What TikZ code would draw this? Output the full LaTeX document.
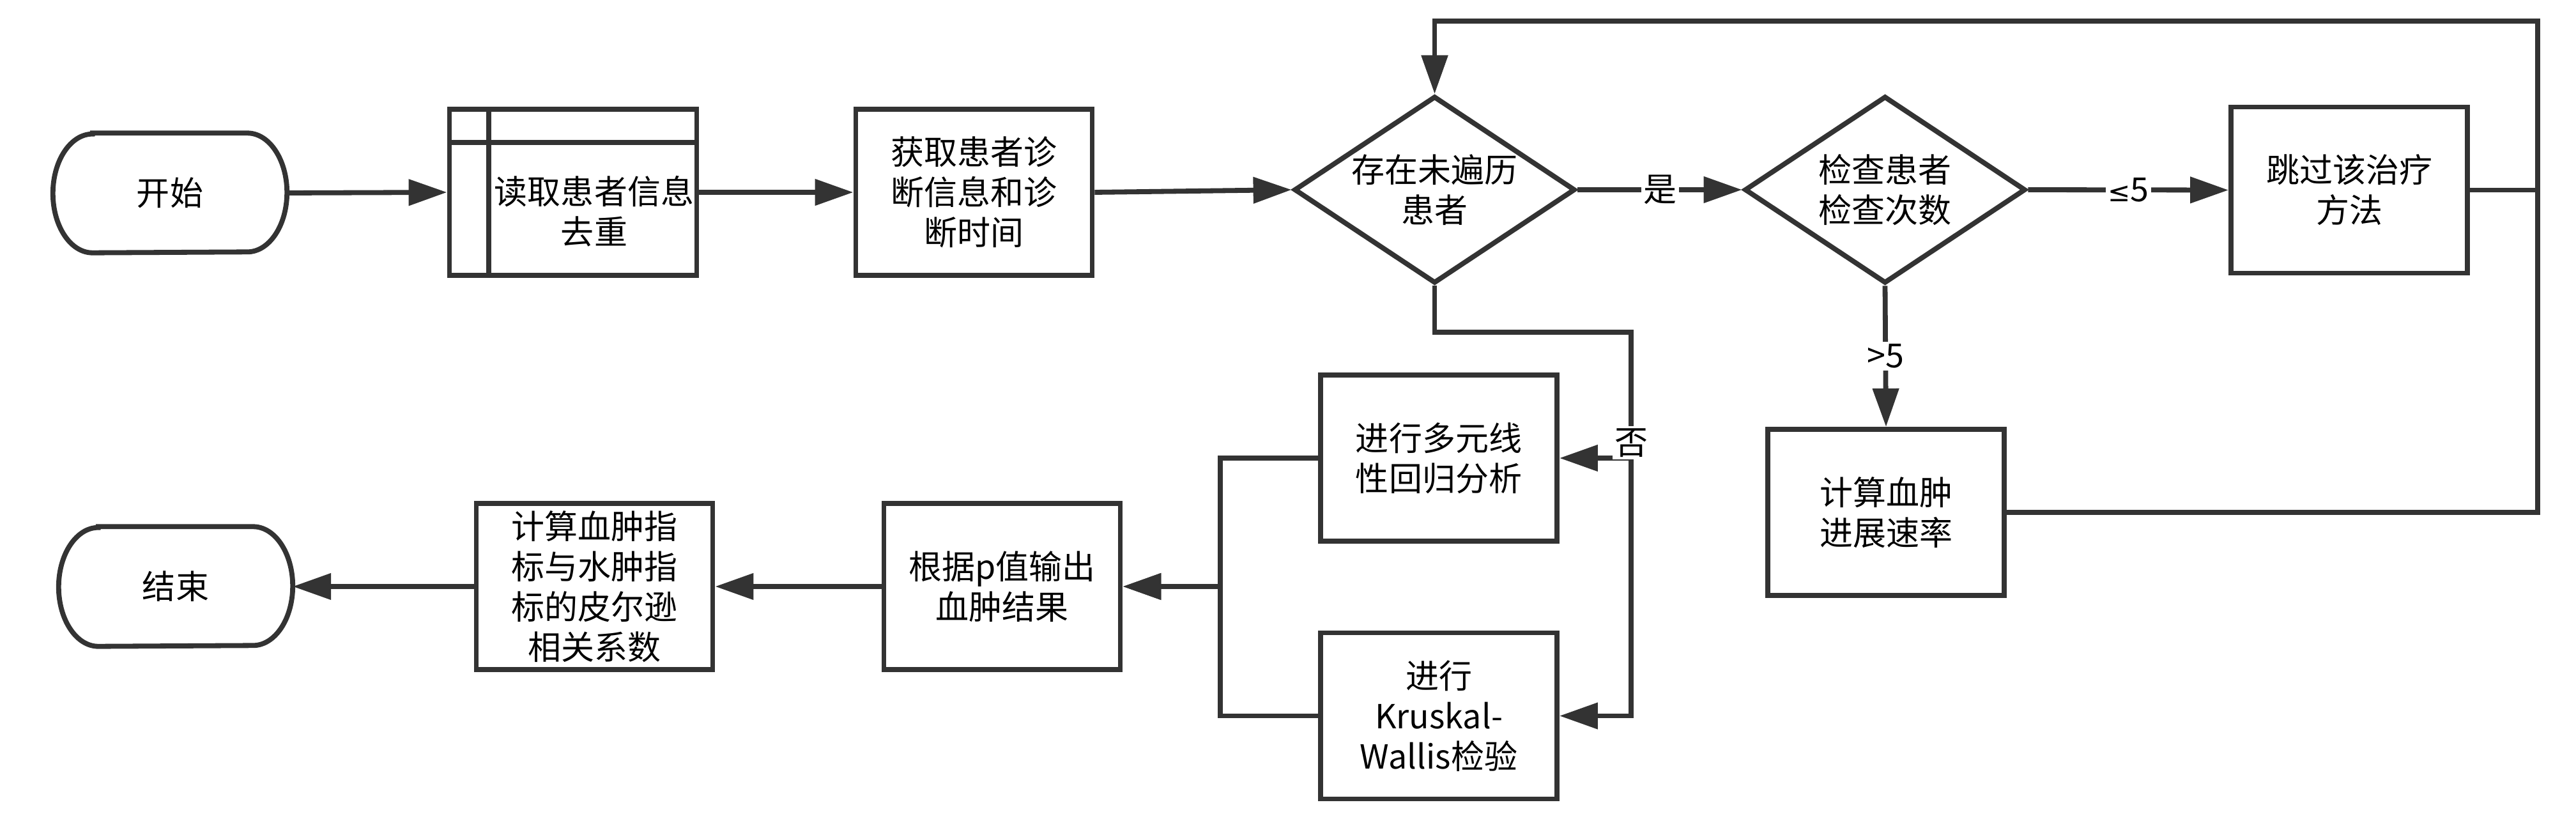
\documentclass[tikz,border=0pt]{standalone}
\usepackage{fontspec}
\setmainfont{Noto Sans CJK SC}
\newfontfamily\symfont{DejaVu Sans}
\usetikzlibrary{arrows.meta,shapes.geometric}
\definecolor{linegray}{HTML}{333333}
\tikzset{%
  flowbox/.style  = {shape=rectangle, draw=linegray, line width=0.078cm,%
                     minimum width=3.7cm, minimum height=2.6cm,%
                     align=center, inner sep=1pt},%
  decision/.style = {shape=diamond, draw=linegray, line width=0.078cm,%
                     minimum width=4.4cm, minimum height=2.93cm,%
                     aspect=1.5, inner sep=0pt, align=center},%
  terminal/.style = {minimum width=3.65cm, minimum height=1.86cm, inner sep=0pt},%
  flow/.style     = {draw=linegray, line width=0.078cm,%
                     -{Triangle[length=0.6cm,width=0.4cm]}},%
  branch/.style   = {fill=white, inner sep=1pt}%
}

\begin{document}
\begin{tikzpicture}[every node/.style={font=\fontsize{14.8pt}{17.9pt}\selectfont}]
	\useasboundingbox (0,0) rectangle (40.32,-12.96);
	% top row
	\node[terminal] (start) at (2.66,-3.02) {开始};
	\node[flowbox, minimum width=3.87cm] (read) at (8.97,-3.01) {};
	\node[align=center] (readtxt) at (9.30,-3.31) {读取患者信息\\去重};
	\node[flowbox] (fetch) at (15.245,-3.01) {获取患者诊\\断信息和诊\\断时间};
	\node[decision] (remain) at (22.455,-2.97) {存在未遍历\\患者};
	\node[decision] (count) at (29.505,-2.97) {检查患者\\检查次数};
	\node[flowbox] (skip) at (36.77,-2.975) {跳过该治疗\\方法};
	\node[flowbox] (rate) at (29.52,-8.02) {计算血肿\\进展速率};
	% bottom row
	\node[flowbox] (mlr) at (22.52,-7.17) {进行多元线\\性回归分析};
	\node[flowbox] (kw) at (22.52,-11.205) {进行\\Kruskal-\\Wallis检验};
	\node[flowbox] (pval) at (15.685,-9.18) {根据p值输出\\血肿结果};
	\node[flowbox] (pearson) at (9.305,-9.18) {计算血肿指\\标与水肿指\\标的皮尔逊\\相关系数};
	\node[terminal] (end) at (2.75,-9.18) {结束};
	\foreach \n in {start,end}
		\draw[linegray, line width=0.078cm] ([xshift=0.62cm]\n.north west) -- ([xshift=-0.62cm]\n.north east)
			arc[start angle=90, end angle=-90, x radius=0.62cm, y radius=0.93cm]
			-- ([xshift=0.62cm]\n.south west)
			arc[start angle=270, end angle=90, x radius=0.62cm, y radius=0.93cm] -- cycle;
	\draw[linegray, line width=0.078cm] ([xshift=0.65cm]read.north west) -- ([xshift=0.65cm]read.south west)
		([yshift=-0.56cm]read.north west) -- ([yshift=-0.56cm]read.north east);
	% connectors
	\coordinate (back) at (39.72,-0.33);
	\coordinate (nobend) at (25.53,-5.2);
	\coordinate (merge) at (19.10,-9.18);
	\draw[flow] (start.east) -- (read.west);
	\draw[flow] (read.east) -- (fetch.west);
	\draw[flow] (fetch.east) -- (remain.west);
	\draw[flow] (remain.east) -- node[branch] {是} (count.west);
	\draw[flow] (count.east) -- node[branch] {{\symfont\fontsize{12pt}{14pt}\selectfont ≤}5} (skip.west);
	\draw[flow] (count.south) -- node[branch] {>5} (rate.north);
	\draw[flow] (skip.east) -| (back) -| (remain.north);
	\draw[flow] (rate.east) -| (back) -| (remain.north);
	\draw[flow] (remain.south) |- (nobend) |- (kw.east);
	\draw[flow] (remain.south) |- (nobend) |- node[branch, pos=0.44] {否} (mlr.east);
	\draw[flow] (mlr.west) -| (merge) -- (pval.east);
	\draw[flow] (kw.west) -| (merge) -- (pval.east);
	\draw[flow] (pval.west) -- (pearson.east);
	\draw[flow] (pearson.west) -- (end.east);
\end{tikzpicture}
\end{document}
